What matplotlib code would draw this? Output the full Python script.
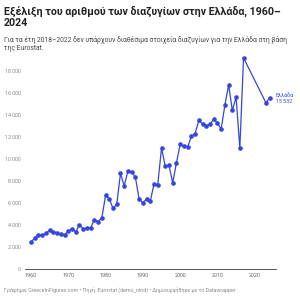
import matplotlib.pyplot as plt
from matplotlib.ticker import FuncFormatter

plt.rcParams['font.family'] = ['Roboto', 'DejaVu Sans']

# divorces per year (no Eurostat data for 2018-2022)
years = list(range(1960, 2018)) + [2023, 2024]
divorces = [
    2455, 2844, 3090, 3090, 3270, 3540, 3390, 3300, 3210, 3120,
    3480, 3660, 3390, 4050, 3660, 3750, 3750, 4500, 4320, 4680,
    6700, 6380, 5530, 5890, 8700, 7550, 8940, 8850, 8340, 6380,
    6040, 6380, 6190, 7760, 7670, 11000, 9370, 9460, 7830, 9640,
    11330, 11200, 11090, 12060, 12300, 13500, 13200, 12990, 13170, 13620,
    13260, 12720, 14900, 16730, 14410, 15620, 11000, 19180,
    15100, 15532,
]
y_ticks = [0, 2000, 4000, 6000, 8000, 10000, 12000, 14000, 16000, 18000]
x_ticks = [1960, 1970, 1980, 1990, 2000, 2010, 2020]

blue = '#3446dc'
grey = '#8a8a8a'

fig = plt.figure(figsize=(3, 3), dpi=100)
ax = fig.add_axes([25 / 300, 30.7 / 300, 251 / 300, 215 / 300])

ax.plot(years, divorces, color=blue, lw=0.9, marker='o', ms=2.3, mec=blue, mfc=blue)

ax.set_xlim(1958.4, 2025.7)
ax.set_ylim(0, 19500)
ax.set_yticks(y_ticks)
ax.set_xticks(x_ticks)
ax.yaxis.set_major_formatter(FuncFormatter(lambda v, p: f'{int(v):,}'.replace(',', '\u2009')))

for s in ['top', 'right', 'left']:
    ax.spines[s].set_visible(False)
ax.spines['bottom'].set_color('#555555')
ax.spines['bottom'].set_linewidth(0.7)
ax.tick_params(axis='y', length=0, pad=3, labelsize=3.9, labelcolor=grey)
ax.tick_params(axis='x', length=0, pad=3, labelsize=3.9, labelcolor='#666666')

# end label
ax.text(2025.7, divorces[-1] + 250, 'Ελλάδα', color=blue, fontsize=3.9,
        ha='left', va='center')
ax.text(2025.7, divorces[-1] - 350, '15\u2009532', color=blue, fontsize=3.9,
        ha='left', va='center')

fig.text(4 / 300, 1 - 6 / 300, 'Εξέλιξη του αριθμού των διαζυγίων στην Ελλάδα, 1960–\n2024',
         fontsize=7.65, fontweight='bold', color='#222222', va='top', ha='left', linespacing=1.1)
fig.text(4 / 300, 1 - 36 / 300,
         'Για τα έτη 2018–2022 δεν υπάρχουν διαθέσιμα στοιχεία διαζυγίων για την Ελλάδα στη βάση\nτης Eurostat.',
         fontsize=4.85, color='#444444', va='top', ha='left', linespacing=1.25)
fig.text(4 / 300, 1 - 291 / 300,
         'Γράφημα: GreeceInFigures.com • Πηγή: Eurostat (demo_nind) • Δημιουργήθηκε με το Datawrapper',
         fontsize=3.8, color=grey, va='center', ha='left')

fig.savefig('out.png', dpi=100, facecolor='white')
